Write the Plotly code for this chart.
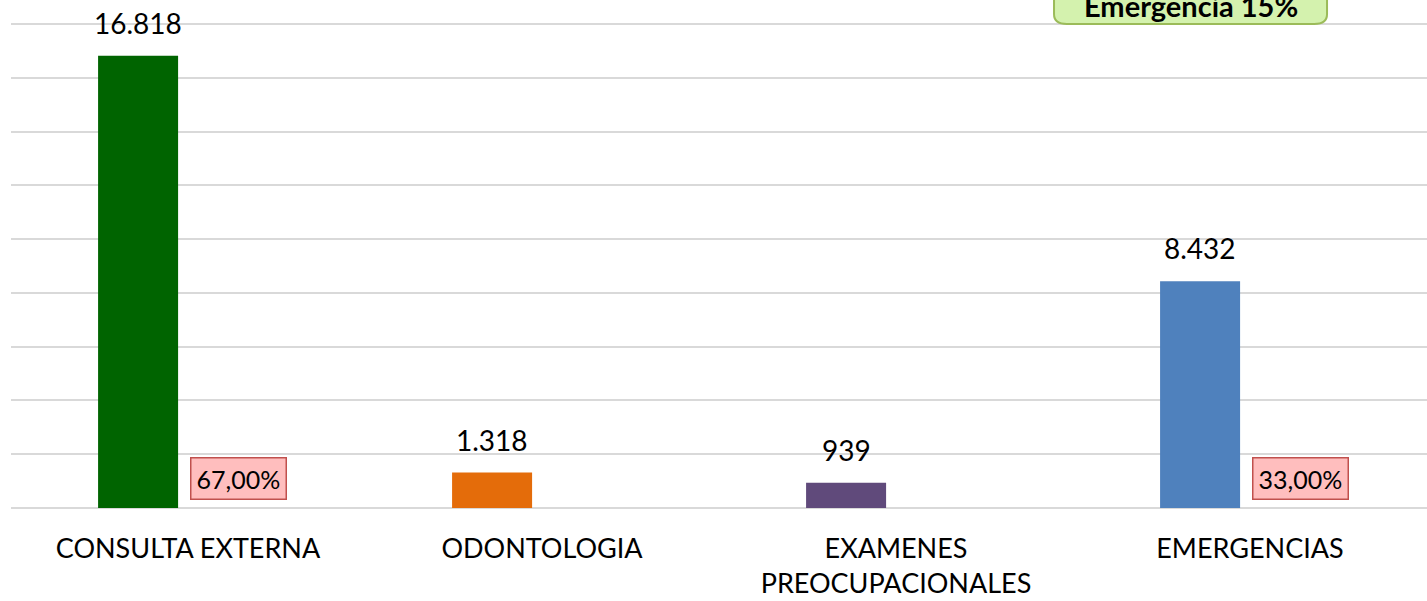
import plotly.graph_objects as go

categories = ["CONSULTA EXTERNA", "ODONTOLOGIA", "EXAMENES<br>PREOCUPACIONALES", "EMERGENCIAS"]
values = [16818, 1318, 939, 8432]
value_labels = ["16.818", "1.318", "939", "8.432"]
colors = ["#006400", "#E46C0A", "#604A7B", "#4F81BD"]
pct_categories = ["CONSULTA EXTERNA", "EMERGENCIAS"]
pct_labels = ["67,00%", "33,00%"]
note_text = "Emergencia 15%"

FONT = "Lato, Open Sans, sans-serif"
BAR_W = 0.226
BAR_CENTER = -0.141

fig = go.Figure()
fig.add_trace(go.Bar(
    x=categories, y=values, marker=dict(color=colors, line=dict(width=0)),
    width=BAR_W, offset=BAR_CENTER - BAR_W / 2, showlegend=False,
))

for c, v, t in zip(categories, values, value_labels):
    fig.add_annotation(x=c, y=v, text=t, showarrow=False, yanchor="bottom", yshift=14,
                       xshift=-50, font=dict(family=FONT, size=28, color="#000000"))

for c, t in zip(pct_categories, pct_labels):
    fig.add_annotation(x=c, y=0, text=t, showarrow=False, yanchor="bottom", yshift=8,
                       xshift=50, font=dict(family=FONT, size=25, color="#000000"),
                       bgcolor="#FFBEBE", bordercolor="#C0504D", borderwidth=1.5, borderpad=5)

# green rounded note box (top right, partly cut off)
fig.add_shape(type="path", xref="paper", yref="paper",
              path="M 0.7366,1.06 L 0.7366,0.972 Q 0.7366,0.9528 0.7456,0.9528 L 0.9204,0.9528 Q 0.9294,0.9528 0.9294,0.972 L 0.9294,1.06 Z",
              fillcolor="#D4F2AE", line=dict(color="#9BBB59", width=2), layer="above")
fig.add_annotation(xref="paper", yref="paper", x=0.833, y=0.990, xanchor="center", yanchor="middle",
                   text="<b>" + note_text + "</b>",
                   showarrow=False, font=dict(family=FONT, size=29, color="#000000"))

fig.update_layout(
    width=1427, height=601,
    margin=dict(l=11, r=0, t=0, b=93),
    plot_bgcolor="white", paper_bgcolor="white",
    xaxis=dict(showgrid=False, showline=False, ticks="", tickfont=dict(family=FONT, size=27, color="#000000"),
               ticklabelstandoff=22, range=[-0.5, 3.5]),
    yaxis=dict(range=[0, 18895], dtick=2000, showgrid=True, gridcolor="#D9D9D9", gridwidth=2,
               zeroline=True, zerolinecolor="#D9D9D9", zerolinewidth=2, showticklabels=False, ticks=""),
)

fig.write_html("out.html", config={"displayModeBar": False},
               post_script="document.body.style.margin='0';document.body.style.padding='0';")
